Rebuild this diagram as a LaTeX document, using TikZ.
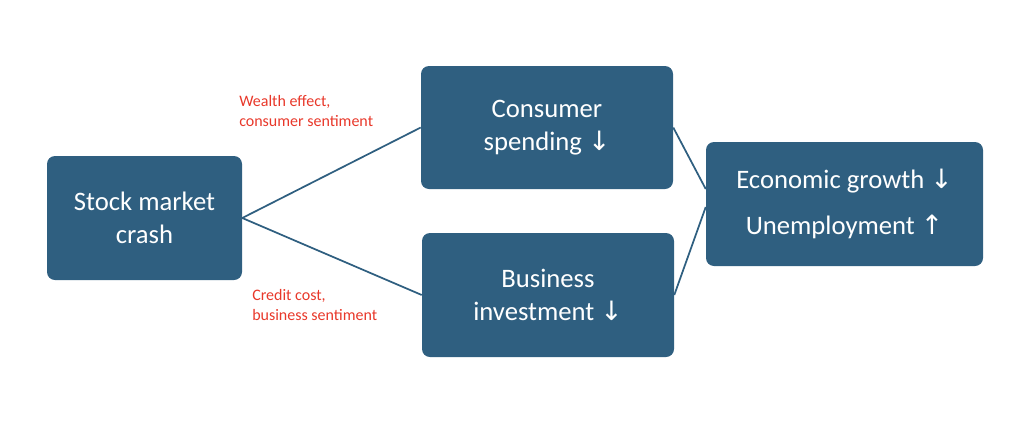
\documentclass[tikz,border=0pt]{standalone}
\usepackage{fontspec}
\setmainfont{Carlito}
\newfontfamily\arr{DejaVu Sans}
\definecolor{boxblue}{HTML}{2F5F80}
\definecolor{lbl}{HTML}{E8382A}
\begin{document}
\begin{tikzpicture}[x=0.75pt,y=-0.75pt,
  box/.style={fill=boxblue,rounded corners=6pt,text=white,align=center,font=\fontsize{20}{25}\selectfont,inner sep=0pt},
  conn/.style={draw=boxblue,line width=1.3pt},
  lab/.style={text=lbl,align=left,font=\fontsize{12}{15}\selectfont,anchor=north west,inner sep=0pt}]
\useasboundingbox (0,0) rectangle (1024,422);
\node[box,minimum width=195*0.75pt,minimum height=124*0.75pt] (s) at (144.5,218) {Stock market\\crash};
\node[box,minimum width=252*0.75pt,minimum height=123*0.75pt] (c) at (547,127.5) {Consumer\\spending {\arr ↓}};
\node[box,minimum width=252*0.75pt,minimum height=124*0.75pt] (b) at (548,295) {Business\\investment {\arr ↓}};
\node[box,minimum width=277*0.75pt,minimum height=124*0.75pt,font=\fontsize{20}{35}\selectfont] (e) at (844.5,204) {Economic growth {\arr ↓}\\Unemployment {\arr ↑}};
\node[lab] (l1) at (239,95) {Wealth effect,\\consumer sentiment};
\node[lab] (l2) at (252,289) {Credit cost,\\business sentiment};
\draw[conn] (s.east) -- (c.west);
\draw[conn] (s.east) -- (b.west);
\draw[conn] (c.east) -- ([yshift=15*0.75pt]e.west);
\draw[conn] (b.east) -- ([yshift=-3*0.75pt]e.west);
\end{tikzpicture}
\end{document}
